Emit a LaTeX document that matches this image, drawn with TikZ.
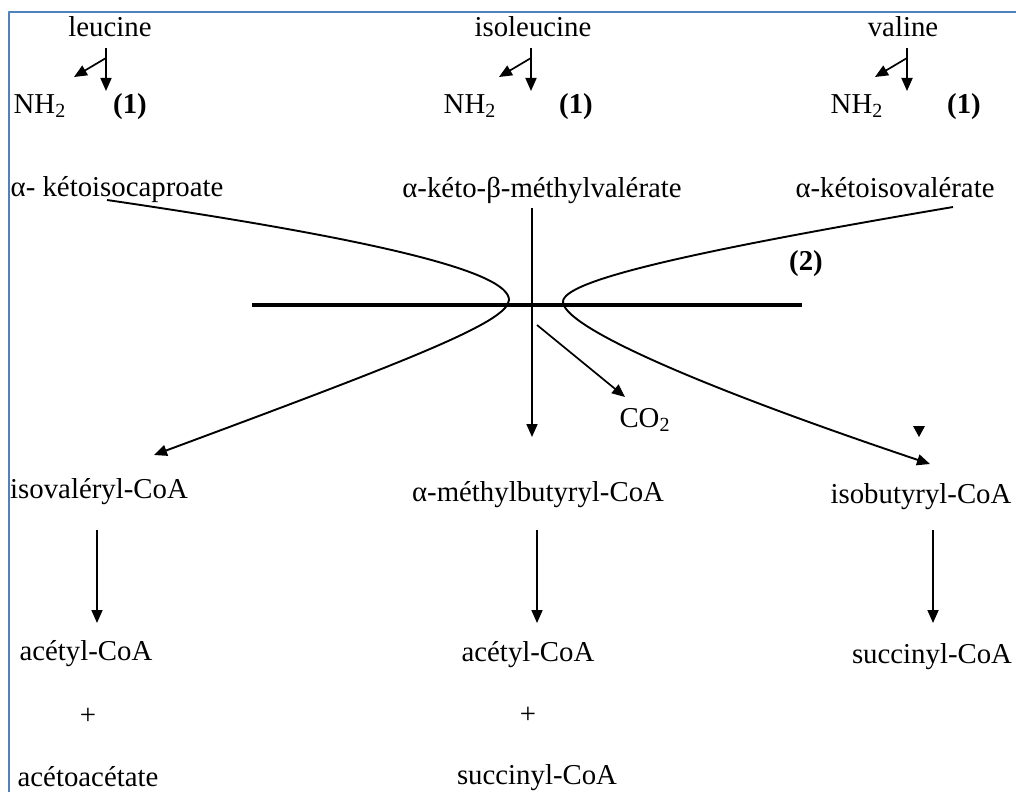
\documentclass[tikz,border=0pt]{standalone}
\usepackage{fontspec}
\setmainfont{Liberation Serif}
\usetikzlibrary{arrows.meta}
\definecolor{frameblue}{RGB}{79,129,189}
\tikzset{
  lbl/.style={inner sep=0pt,font=\fontsize{14.4}{17}\selectfont},
  num/.style={inner sep=0pt,font=\fontsize{14.4}{17}\selectfont\bfseries},
  flow/.style={line width=0.85pt,-{Triangle[length=6.5pt,width=5.5pt]}},
  branch/.style={line width=0.95pt,-{Triangle[length=6.5pt,width=5.5pt]}},
}
\begin{document}
\begin{tikzpicture}[x=0.5pt,y=-0.5pt,line join=round]
\useasboundingbox (0,0) rectangle (1016,792);
\draw[frameblue,line width=1.1pt](9,792)--(9,12)--(1016,12);

% amino acids and transamination
\node[lbl] (leu) at (110,27) {leucine};
\node[lbl] (ileu) at (533,27) {isoleucine};
\node[lbl] (val) at (903,27) {valine};
\node[lbl] (nhL) at (40,106) {NH\textsubscript{2}};
\node[lbl] (nhM) at (470,106) {NH\textsubscript{2}};
\node[lbl] (nhR) at (857,106) {NH\textsubscript{2}};
\node[num] (oneL) at (130,107) {(1)};
\node[num] (oneM) at (576,107) {(1)};
\node[num] (oneR) at (964,107) {(1)};
\foreach \n/\x in {leu/106,ileu/531,val/907}{
  \coordinate (\n-top) at (\x,48);
  \coordinate (\n-knee) at (\x,58);
  \coordinate (\n-down) at (\x,91);
  \coordinate (\n-nh) at (\x-32,77);
  \draw[flow](\n-top)--(\n-down);
  \draw[flow](\n-knee)--(\n-nh);
}

% keto acids
\node[lbl] (kic) at (117,190) {α- kétoisocaproate};
\node[lbl] (kmv) at (542,190) {α-kéto-β-méthylvalérate};
\node[lbl] (kiv) at (895,188) {α-kétoisovalérate};
\node[num] (two) at (806,264) {(2)};

% decarboxylation
\coordinate (barL) at (252,305);
\coordinate (barR) at (802,305);
\draw[line width=2.2pt](barL)--(barR);
\coordinate (kicEnd) at (107,200);
\coordinate (kivEnd) at (953,207);
\coordinate (kmvEnd) at (532,208);
\coordinate (co2Start) at (537,325);
\node[lbl] (co2) at (645,420) {CO\textsubscript{2}};
\node[lbl] (ivc) at (99,492) {isovaléryl-CoA};
\node[lbl] (mbc) at (538,495) {α-méthylbutyryl-CoA};
\node[lbl] (ibc) at (921,497) {isobutyryl-CoA};
\coordinate (ivcIn) at (154,455);
\coordinate (mbcIn) at (532,437);
\coordinate (ibcIn) at (930,464);
\coordinate (co2In) at (625,397);
\draw[branch](kicEnd)..controls(380,240)and(509,272)..(509,300)
  ..controls(508,322)and(410,360)..(ivcIn);
\draw[branch](kivEnd)..controls(700,250)and(562,280)..(563,302)
  ..controls(564,325)and(680,380)..(ibcIn);
\draw[flow](kmvEnd)--(mbcIn);
\draw[flow](co2Start)--(co2In);
\fill(913,426)--(925,426)--(919,437)--cycle;

% end products
\node[lbl] (acL) at (86,654) {acétyl-CoA};
\node[lbl] (acM) at (528,655) {acétyl-CoA};
\node[lbl] (scR) at (932,657) {succinyl-CoA};
\node[lbl] (plL) at (88,716) {+};
\node[lbl] (plM) at (528,715) {+};
\node[lbl] (aca) at (88,777) {acétoacétate};
\node[lbl] (scM) at (537,778) {succinyl-CoA};
\foreach \n/\m/\x in {ivc/acL/97,mbc/acM/537,ibc/scR/933}{
  \coordinate (\n-out) at (\x,530);
  \coordinate (\m-in) at (\x,623);
  \draw[flow](\n-out)--(\m-in);
}
\end{tikzpicture}
\end{document}
